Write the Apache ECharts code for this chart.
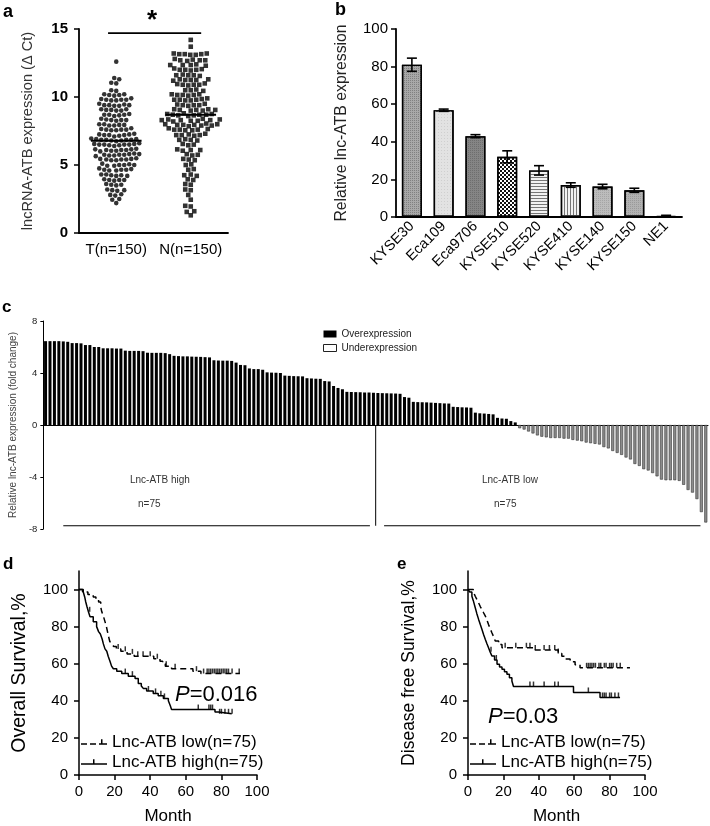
<!DOCTYPE html>
<html><head><meta charset="utf-8">
<script src="https://cdn.jsdelivr.net/npm/echarts@6/dist/echarts.min.js"></script>
<style>html,body{margin:0;padding:0;background:#fff}#c{width:710px;height:826px}</style>
</head><body><div id="c"></div>
<script>
const FONT = '"Liberation Sans", Arial, Helvetica, sans-serif';

// ---------- Panel a ----------
const groupsA = ['T(n=150)', 'N(n=150)'];
const valuesT = [
  12.6, 11.4, 11.3, 11.0, 11.05, 10.5, 10.45,
  10.2, 10.15, 10.1, 10.15, 10.2,
  9.8, 9.85, 9.75, 9.8, 9.8, 9.9, 9.75,
  9.4, 9.45, 9.35, 9.4, 9.4, 9.5, 9.35,
  9.05, 9.1, 9.0, 9.05, 9.0, 9.1,
  8.7, 8.75, 8.65, 8.7, 8.7, 8.6,
  8.3, 8.35, 8.25, 8.3, 8.4, 8.3,
  7.95, 8.0, 7.9, 7.95, 8.0, 7.9,
  7.6, 7.65, 7.55, 7.6, 7.6, 7.7, 7.55,
  7.2, 7.25, 7.15, 7.2, 7.3, 7.2, 7.1, 7.25,
  6.85, 6.9, 6.8, 6.85, 6.85, 6.95, 6.8, 6.9, 6.85, 6.75,
  6.5, 6.55, 6.45, 6.5, 6.5, 6.6, 6.45, 6.55, 6.5, 6.4,
  6.1, 6.15, 6.05, 6.1, 6.1, 6.2, 6.05, 6.15, 6.0,
  5.75, 5.8, 5.7, 5.75, 5.75, 5.85, 5.7, 5.8, 5.65,
  5.4, 5.45, 5.35, 5.4, 5.4, 5.5, 5.35, 5.45,
  5.0, 5.05, 4.95, 5.0, 5.0, 5.1, 4.95,
  4.65, 4.7, 4.6, 4.65, 4.65, 4.75, 4.6,
  4.25, 4.3, 4.2, 4.25, 4.3, 4.2,
  3.9, 3.95, 3.85, 3.9, 3.9,
  3.55, 3.6, 3.5, 3.55,
  3.15, 3.2, 3.1, 3.15,
  2.8, 2.85, 2.75, 2.45, 2.5, 2.2
];
const valuesN = [
  14.2, 13.7,
  13.15, 13.2, 13.1, 13.15, 13.2, 13.1, 13.15,
  12.7, 12.75, 12.65, 12.7, 12.7, 12.8,
  12.35, 12.4, 12.3, 12.35, 12.35,
  12.0, 12.05, 11.95, 12.0, 12.0, 12.1,
  11.6, 11.65, 11.55, 11.6, 11.6,
  11.25, 11.3, 11.2, 11.25, 11.25, 11.3,
  10.9, 10.95, 10.85, 10.9, 10.9, 11.0,
  10.5, 10.55, 10.45, 10.5,
  10.15, 10.2, 10.1, 10.15, 10.15, 10.2,
  9.8, 9.85, 9.75, 9.8, 9.8, 9.9, 9.75,
  9.4, 9.45, 9.35, 9.4, 9.4, 9.5,
  9.05, 9.1, 9.0, 9.05, 9.05, 9.1, 9.0,
  8.7, 8.75, 8.65, 8.7, 8.7, 8.8, 8.65, 8.75, 8.6,
  8.3, 8.35, 8.25, 8.3, 8.3, 8.4, 8.25, 8.35, 8.2,
  7.95, 8.0, 7.9, 7.95, 7.95, 8.05, 7.9, 8.0, 7.85,
  7.6, 7.65, 7.55, 7.6, 7.6, 7.7, 7.55,
  7.2, 7.25, 7.15, 7.2, 7.2, 7.3,
  6.85, 6.9, 6.8, 6.85,
  6.5, 6.55, 6.45,
  6.1, 6.15, 6.05, 6.1,
  5.75, 5.8, 5.7,
  5.4, 5.45, 5.35,
  5.0, 5.05, 4.65, 4.7,
  4.25, 4.3, 4.2,
  3.9, 3.95, 3.55, 3.6, 3.15, 3.2,
  2.8, 2.45, 1.95, 2.0, 1.6, 1.55, 1.3
];

// ---------- Panel b ----------
const cellLines = ['KYSE30', 'Eca109', 'Eca9706', 'KYSE510', 'KYSE520', 'KYSE410', 'KYSE140', 'KYSE150', 'NE1'];
const cellMeans = [81, 56.8, 43, 32, 24.8, 17, 16.2, 14.2, 0.6];
const cellErrors = [3.5, 0.6, 0.8, 3.2, 2.5, 1.2, 1.2, 1.1, 0.3];

// ---------- Panel c ----------
const foldChange = [
  6.45, 6.45, 6.45, 6.45, 6.43, 6.4, 6.3, 6.3, 6.28, 6.15, 6.15, 6.0, 6.0,
  5.9, 5.9, 5.9, 5.88, 5.88, 5.72, 5.7, 5.7, 5.7, 5.68, 5.56, 5.55, 5.55, 5.55, 5.53, 5.45,
  5.32, 5.3, 5.28, 5.28, 5.26, 5.25, 5.24, 5.22, 5.2, 4.98, 4.96, 4.95, 4.95, 4.93, 4.8,
  4.62, 4.6, 4.35, 4.3, 4.3, 4.25, 4.05, 4.03, 4.02, 4.0, 3.8, 3.78, 3.76, 3.75, 3.74,
  3.6, 3.58, 3.56, 3.55, 3.38, 3.35, 3.0, 2.85, 2.75,
  2.55, 2.54, 2.53, 2.52, 2.5, 2.5, 2.48, 2.46, 2.45, 2.44, 2.43, 2.42, 2.4, 2.15, 2.1,
  1.78, 1.76, 1.75, 1.74, 1.72, 1.7, 1.68, 1.66, 1.65, 1.4, 1.38, 1.36, 1.35, 1.33,
  0.95, 0.9, 0.88, 0.85, 0.82, 0.55, 0.5, 0.48, 0.3, 0.2,
  -0.25, -0.35, -0.5, -0.65, -0.8, -0.9, -0.95, -1.0, -1.0, -1.0, -1.05, -1.05, -1.15, -1.2,
  -1.25, -1.35, -1.4, -1.45, -1.5, -1.7, -1.8, -2.0, -2.15, -2.3, -2.5, -2.65, -3.0, -3.15,
  -3.4, -3.5, -3.7, -3.95, -4.2, -4.25, -4.25, -4.25, -4.3, -4.6, -5.0, -5.2, -5.7, -6.7, -7.5
];
const cLegend = ['Overexpression', 'Underexpression'];

// ---------- Panels d, e (Kaplan-Meier: [month, survival %]) ----------
const kmNames = ['Lnc-ATB low(n=75)', 'Lnc-ATB high(n=75)'];
const osLow = [[0,100],[2,98.7],[5,97.3],[8,96],[9.5,94.7],[11,93.3],[12.2,90.7],[12.8,88],[13.8,85.3],[14.6,82.7],[15.4,80],[16,77.3],[16.6,74.7],[17.3,72],[18.4,70.7],[19.5,69.3],[21,68],[23.5,66.7],[27,65.3],[31,64],[42,62.7],[45.5,61.3],[47,60],[48.5,58.7],[52,57.3],[64,56],[68.5,54.7],[90.4,54.7]];
const osHigh = [[0,100],[2.4,98.7],[3.2,96],[3.8,93.3],[4.5,90.7],[5.3,88],[6.2,85.3],[8,82.7],[9.9,80],[11,77.3],[12,76],[13,73.3],[13.7,70.7],[14.6,68],[15.6,66.7],[16.4,64],[17.4,61.3],[18.3,58.7],[19.3,57.3],[21.2,56],[24,54.7],[27.7,53.3],[31.5,52],[33.3,49.3],[35,48],[36.1,46.7],[38,45.3],[41.7,44],[44.5,42.7],[47.4,41.3],[50.2,40],[51.3,37.3],[52,35.3],[76.4,34],[78.3,33],[85.8,33]];
const dfsLow = [[0,100],[3,98.7],[4.1,96.4],[5,94.7],[6,92.8],[7,90.7],[7.9,89.2],[8.8,87.5],[9.8,85.7],[10.7,83.5],[11.6,81.2],[12.5,79],[13.5,76.7],[14.5,74.5],[15.4,72.2],[17.3,70.4],[19.2,68.6],[37,67.4],[51,65.5],[53,64],[55,62.5],[57.7,61],[60.5,59.5],[63.3,57.8],[91.5,57.8]];
const dfsHigh = [[0,100],[1,98.7],[2.2,96.4],[3,94],[4.1,90.2],[5,87],[6,83.9],[7,81],[7.9,78.5],[8.8,75.8],[9.8,73.1],[10.7,70.8],[11.6,68.6],[12.5,66.4],[13.5,64.2],[15,62],[16.4,59.7],[17.8,58.3],[19.2,57],[20.6,55.7],[22,54.3],[23.4,52.5],[24.8,50.7],[25.7,47.7],[59.6,44.5],[74.6,41.8],[85.9,41.8]];
const osLowCensor = [22, 26, 30, 33, 36, 40, 44, 49, 54, 66, 70, 72, 73, 74, 75, 76, 77, 78, 79, 80, 81, 82, 83, 84, 86, 90];
const osHighCensor = [6, 26, 30, 39, 43, 46, 48, 67, 73, 74, 75, 79, 80, 82, 84, 86];
const dfsLowCensor = [21, 27, 33, 35, 38, 43, 46, 49, 51, 67, 68, 69, 70, 71, 72, 74, 75, 77, 78, 80, 81, 82, 84, 86];
const dfsHighCensor = [13, 16, 35, 37, 43, 49, 51, 68, 76, 77, 78, 80, 81, 83, 85];

// ---------- layout helpers ----------
const gridA = {left: 79, top: 29, width: 149, height: 204};
function swarm(values, pxY, pxX, d) {
  const order = values.map((v, i) => i).sort((a, b) => values[a] - values[b]);
  const placed = [];
  const out = new Array(values.length);
  for (const i of order) {
    const y = values[i] * pxY;
    let off = 0;
    for (let k = 0; k < 400; k++) {
      const cand = (k % 2 === 0 ? 1 : -1) * Math.ceil(k / 2) * 0.5;
      let ok = true;
      for (const p of placed) {
        const dy = p.y - y, dx = p.x - cand;
        if (dx * dx + dy * dy < d * d) { ok = false; break; }
      }
      if (ok) { off = cand; break; }
    }
    placed.push({x: off, y: y});
    out[i] = off / pxX;
  }
  return out;
}
const pxY = gridA.height / 15, pxX = gridA.width / 2;
const offT = swarm(valuesT, pxY, pxX, 5);
const offN = swarm(valuesN, pxY, pxX, 5.2);
const mean = a => a.reduce((s, v) => s + v, 0) / a.length;
const mT = mean(valuesT), mN = mean(valuesN);

function survAt(curve, t) {
  let s = curve[0][1];
  for (const p of curve) { if (p[0] <= t) s = p[1]; }
  return s;
}
const censorData = (curve, times) => times.map(t => [t, survAt(curve, t)]);

const barPatterns = [
  {color: '#a8a8a8', decal: {symbol: 'rect', symbolSize: 1, dashArrayX: [1, 1], dashArrayY: [1, 1], color: '#808080'}},
  {color: '#e2e2e2', decal: {symbol: 'rect', symbolSize: 1, dashArrayX: [1, 2], dashArrayY: [1, 2], color: '#cfcfcf'}},
  {color: '#858585', decal: {symbol: 'rect', symbolSize: 1, dashArrayX: [1, 1], dashArrayY: [1, 1], color: '#6e6e6e'}},
  {color: '#ffffff', decal: {symbol: 'rect', symbolSize: 1, dashArrayX: [[2, 2], [0, 2, 2, 0]], dashArrayY: [2, 0], color: '#111'}},
  {color: '#f2f2f2', decal: {symbol: 'rect', symbolSize: 1, dashArrayX: [1, 0], dashArrayY: [1, 2], color: '#777'}},
  {color: '#f2f2f2', decal: {symbol: 'rect', symbolSize: 1, dashArrayX: [1, 2], dashArrayY: [1, 0], color: '#777'}},
  {color: '#bcbcbc', decal: {symbol: 'rect', symbolSize: 1, dashArrayX: [1, 1], dashArrayY: [1, 1], color: '#a5a5a5'}},
  {color: '#b2b2b2', decal: {symbol: 'rect', symbolSize: 1, dashArrayX: [1, 1], dashArrayY: [1, 1], color: '#9a9a9a'}},
  {color: '#888888', decal: null}
];

const axisLineBlack = w => ({show: true, lineStyle: {color: '#000', width: w}});
const lbl = (size, extra) => Object.assign({fontFamily: FONT, fontSize: size, color: '#000'}, extra || {});

const iconDash = 'path://M0,4h6v1.5H0zM9,4h6v1.5H9zM18,4h8v1.5h-8zM20,0h1.5v5.5H20z';
const iconSolid = 'path://M0,4h26v1.5H0zM12,0h1.5v5.5H12z';

const chart = echarts.init(document.getElementById('c'), null, {renderer: 'canvas'});
const titleText = (text, left, top, size, weight, color) => ({
  text: text, left: left, top: top, padding: 0,
  textStyle: {fontFamily: FONT, fontSize: size, fontWeight: weight || 'normal', color: color || '#000'}
});
const pText = (text, left, top) => ({
  text: text, left: left, top: top, padding: 0,
  textStyle: {fontFamily: FONT, fontSize: 22, fontWeight: 'normal', color: '#000',
    rich: {i: {fontFamily: FONT, fontSize: 22, fontWeight: 'normal', fontStyle: 'italic', color: '#000'},
           n: {fontFamily: FONT, fontSize: 22, fontWeight: 'normal', color: '#000'}}}
});

const barData = cellMeans.map((v, i) => {
  const st = {color: barPatterns[i].color, borderColor: '#000', borderWidth: 1.4};
  if (barPatterns[i].decal) st.decal = barPatterns[i].decal;
  return {value: v, itemStyle: st};
});

const option = {
  animation: false,
  backgroundColor: '#fff',
  title: [
    titleText('a', 3, 3, 18, 'bold'),
    titleText('*', 147, 8, 26, 'bold'),
    titleText('b', 335, 1, 18, 'bold'),
    titleText('c', 2, 299, 17, 'bold'),
    titleText('d', 3, 556, 17, 'bold'),
    titleText('e', 397, 556, 17, 'bold'),
    titleText('Lnc-ATB high', 130, 475, 10, 'normal', '#333'),
    titleText('n=75', 138, 499, 10, 'normal', '#333'),
    titleText('Lnc-ATB low', 482, 475, 10, 'normal', '#333'),
    titleText('n=75', 494, 499, 10, 'normal', '#333'),
    pText('{i|P}{n|=0.016}', 175, 684),
    pText('{i|P}{n|=0.03}', 488, 706)
  ],
  legend: [
    {data: [{name: cLegend[0]}, {name: cLegend[1], itemStyle: {color: '#fff', borderColor: '#222', borderWidth: 1}}],
     orient: 'vertical', left: 323, top: 329, padding: 0, itemWidth: 13, itemHeight: 7, itemGap: 4,
     icon: 'rect', selectedMode: false, textStyle: {fontFamily: FONT, fontSize: 10, color: '#222'}},
    {data: [{name: kmNames[0], icon: iconDash}, {name: kmNames[1], icon: iconSolid}], orient: 'vertical', left: 81, top: 732, padding: 0,
     itemWidth: 26, itemHeight: 6, itemGap: 0, selectedMode: false,
     textStyle: {fontFamily: FONT, fontSize: 17, color: '#000', lineHeight: 20}},
    {data: [{name: kmNames[0], icon: iconDash}, {name: kmNames[1], icon: iconSolid}], orient: 'vertical', left: 470, top: 732, padding: 0,
     itemWidth: 26, itemHeight: 6, itemGap: 0, selectedMode: false,
     textStyle: {fontFamily: FONT, fontSize: 17, color: '#000', lineHeight: 20}}
  ],
  grid: [
    {left: gridA.left, top: gridA.top, width: gridA.width, height: gridA.height},
    {left: 396, top: 29, width: 286, height: 188},
    {left: 39, top: 321, width: 669, height: 208},
    {left: 79, top: 571, width: 178, height: 205},
    {left: 468, top: 571, width: 177, height: 205}
  ],
  xAxis: [
    {gridIndex: 0, type: 'category', data: groupsA, axisLine: axisLineBlack(1.8),
     axisTick: {alignWithLabel: true, interval: 0, length: 5, lineStyle: {color: '#000', width: 1.5}},
     axisLabel: lbl(15, {margin: 9, interval: 0, hideOverlap: false})},
    {gridIndex: 0, type: 'value', min: 0, max: 2, show: false},
    {gridIndex: 1, type: 'category', data: cellLines, axisLine: axisLineBlack(1.8),
     axisTick: {alignWithLabel: true, interval: 0, length: 5, lineStyle: {color: '#000', width: 1.5}},
     axisLabel: lbl(14.5, {rotate: 45, margin: 7, interval: 0})},
    {gridIndex: 2, type: 'category', data: foldChange.map((v, i) => String(i + 1)),
     axisLine: {show: true, onZero: true, lineStyle: {color: '#000', width: 1}},
     axisTick: {show: false}, axisLabel: {show: false}},
    {gridIndex: 2, type: 'value', min: 0, max: 150, show: false},
    {gridIndex: 3, type: 'value', min: 0, max: 100, interval: 20, name: 'Month', nameLocation: 'middle', nameGap: 33,
     nameTextStyle: lbl(17), axisLine: axisLineBlack(1.5), splitLine: {show: false},
     axisTick: {length: 5, lineStyle: {color: '#000', width: 1.5}}, axisLabel: lbl(15, {margin: 9})},
    {gridIndex: 4, type: 'value', min: 0, max: 100, interval: 20, name: 'Month', nameLocation: 'middle', nameGap: 33,
     nameTextStyle: lbl(17), axisLine: axisLineBlack(1.5), splitLine: {show: false},
     axisTick: {length: 5, lineStyle: {color: '#000', width: 1.5}}, axisLabel: lbl(15, {margin: 9})}
  ],
  yAxis: [
    {gridIndex: 0, type: 'value', min: 0, max: 15, interval: 5, name: 'lncRNA-ATB expression (\u0394 Ct)', nameLocation: 'middle', nameGap: 44,
     nameTextStyle: lbl(14.6, {color: '#333'}), axisLine: axisLineBlack(1.8), splitLine: {show: false},
     axisTick: {show: true, length: 5, lineStyle: {color: '#000', width: 1.5}}, axisLabel: lbl(15, {fontWeight: 'bold', margin: 11})},
    {gridIndex: 1, type: 'value', min: 0, max: 100, interval: 20, name: 'Relative lnc-ATB expression', nameLocation: 'middle', nameGap: 46,
     nameTextStyle: lbl(15.8, {color: '#222'}), axisLine: axisLineBlack(1.8), splitLine: {show: false},
     axisTick: {show: true, length: 5, lineStyle: {color: '#000', width: 1.5}}, axisLabel: lbl(15, {margin: 8})},
    {gridIndex: 2, type: 'value', min: -8, max: 8, interval: 4, name: 'Relative lnc-ATB expression (fold change)', nameLocation: 'middle', nameGap: 25,
     nameTextStyle: lbl(10, {color: '#444'}), axisLine: axisLineBlack(1), splitLine: {show: false},
     axisTick: {show: true, length: 3, lineStyle: {color: '#000', width: 1}}, axisLabel: lbl(9.5, {color: '#222', margin: 6})},
    {gridIndex: 3, type: 'value', min: 0, max: 110, interval: 20, name: 'Overall Survival,%', nameLocation: 'middle', nameGap: 49,
     nameTextStyle: lbl(19.5), axisLine: axisLineBlack(1.5), splitLine: {show: false},
     axisTick: {show: true, length: 5, customValues: [0, 20, 40, 60, 80, 100], lineStyle: {color: '#000', width: 1.5}},
     axisLabel: lbl(15, {margin: 11, customValues: [0, 20, 40, 60, 80, 100]})},
    {gridIndex: 4, type: 'value', min: 0, max: 110, interval: 20, name: 'Disease free Survival,%', nameLocation: 'middle', nameGap: 50,
     nameTextStyle: lbl(17.5), axisLine: axisLineBlack(1.5), splitLine: {show: false},
     axisTick: {show: true, length: 5, customValues: [0, 20, 40, 60, 80, 100], lineStyle: {color: '#000', width: 1.5}},
     axisLabel: lbl(15, {margin: 11, customValues: [0, 20, 40, 60, 80, 100]})}
  ],
  series: [
    // panel a
    {type: 'scatter', name: groupsA[0], xAxisIndex: 1, yAxisIndex: 0, symbol: 'circle', symbolSize: 4.6,
     itemStyle: {color: '#000'}, data: valuesT.map((v, i) => [0.5 + offT[i], v])},
    {type: 'scatter', name: groupsA[1], xAxisIndex: 1, yAxisIndex: 0, symbol: 'rect', symbolSize: 4.6,
     itemStyle: {color: '#000'}, data: valuesN.map((v, i) => [1.5 + offN[i], v])},
    {type: 'line', xAxisIndex: 1, yAxisIndex: 0, symbol: 'none', z: 5, lineStyle: {color: '#000', width: 2},
     data: [[0.16, mT], [0.84, mT]]},
    {type: 'line', xAxisIndex: 1, yAxisIndex: 0, symbol: 'none', z: 5, lineStyle: {color: '#000', width: 2},
     data: [[1.16, mN], [1.84, mN]]},
    {type: 'line', xAxisIndex: 1, yAxisIndex: 0, symbol: 'none', lineStyle: {color: '#000', width: 1.6},
     data: [[0.39, 14.7], [1.64, 14.7]]},
    // panel b
    {type: 'bar', xAxisIndex: 2, yAxisIndex: 1, barWidth: 20, data: barData},
    {type: 'custom', xAxisIndex: 2, yAxisIndex: 1, z: 10,
     data: cellMeans.map((m, i) => [i, m - cellErrors[i], m + cellErrors[i]]),
     renderItem: function (params, api) {
       const lo = api.coord([api.value(0), api.value(1)]);
       const hi = api.coord([api.value(0), api.value(2)]);
       const w = 5, st = {stroke: '#000', lineWidth: 1.6};
       return {type: 'group', children: [
         {type: 'line', shape: {x1: lo[0], y1: lo[1], x2: hi[0], y2: hi[1]}, style: st},
         {type: 'line', shape: {x1: hi[0] - w, y1: hi[1], x2: hi[0] + w, y2: hi[1]}, style: st},
         {type: 'line', shape: {x1: lo[0] - w, y1: lo[1], x2: lo[0] + w, y2: lo[1]}, style: st}
       ]};
     }},
    // panel c
    {type: 'bar', name: cLegend[0], xAxisIndex: 3, yAxisIndex: 2, barWidth: 3, barGap: '-100%',
     itemStyle: {color: '#000'}, data: foldChange.map(v => v > 0 ? v : '-')},
    {type: 'bar', name: cLegend[1], xAxisIndex: 3, yAxisIndex: 2, barWidth: 3, barGap: '-100%',
     itemStyle: {color: '#8c8c8c', borderColor: '#333', borderWidth: 0.6}, data: foldChange.map(v => v < 0 ? v : '-')},
    {type: 'line', xAxisIndex: 4, yAxisIndex: 2, symbol: 'none', lineStyle: {color: '#000', width: 1}, data: [[4.5, -7.75], [73.7, -7.75]]},
    {type: 'line', xAxisIndex: 4, yAxisIndex: 2, symbol: 'none', lineStyle: {color: '#000', width: 1}, data: [[76.9, -7.75], [148.3, -7.75]]},
    {type: 'line', xAxisIndex: 4, yAxisIndex: 2, symbol: 'none', lineStyle: {color: '#000', width: 1}, data: [[75, 0], [75, -7.75]]},
    // panel d
    {type: 'line', name: kmNames[0], xAxisIndex: 5, yAxisIndex: 3, step: 'end', symbol: 'none', itemStyle: {color: '#000'},
     lineStyle: {color: '#000', width: 1.5, type: [6, 4]}, data: osLow},
    {type: 'line', name: kmNames[1], xAxisIndex: 5, yAxisIndex: 3, step: 'end', symbol: 'none', itemStyle: {color: '#000'},
     lineStyle: {color: '#000', width: 1.5}, data: osHigh},
    {type: 'scatter', name: 'censor-os-low', xAxisIndex: 5, yAxisIndex: 3, symbol: 'rect', symbolSize: [1.5, 5], symbolOffset: [0, -2.5],
     itemStyle: {color: '#000'}, data: censorData(osLow, osLowCensor)},
    {type: 'scatter', name: 'censor-os-high', xAxisIndex: 5, yAxisIndex: 3, symbol: 'rect', symbolSize: [1.5, 5], symbolOffset: [0, -2.5],
     itemStyle: {color: '#000'}, data: censorData(osHigh, osHighCensor)},
    // panel e
    {type: 'line', name: kmNames[0], xAxisIndex: 6, yAxisIndex: 4, step: 'end', symbol: 'none', itemStyle: {color: '#000'},
     lineStyle: {color: '#000', width: 1.5, type: [6, 4]}, data: dfsLow},
    {type: 'line', name: kmNames[1], xAxisIndex: 6, yAxisIndex: 4, step: 'end', symbol: 'none', itemStyle: {color: '#000'},
     lineStyle: {color: '#000', width: 1.5}, data: dfsHigh},
    {type: 'scatter', name: 'censor-dfs-low', xAxisIndex: 6, yAxisIndex: 4, symbol: 'rect', symbolSize: [1.5, 5], symbolOffset: [0, -2.5],
     itemStyle: {color: '#000'}, data: censorData(dfsLow, dfsLowCensor)},
    {type: 'scatter', name: 'censor-dfs-high', xAxisIndex: 6, yAxisIndex: 4, symbol: 'rect', symbolSize: [1.5, 5], symbolOffset: [0, -2.5],
     itemStyle: {color: '#000'}, data: censorData(dfsHigh, dfsHighCensor)}
  ]
};
chart.setOption(option);
</script>
</body></html>
